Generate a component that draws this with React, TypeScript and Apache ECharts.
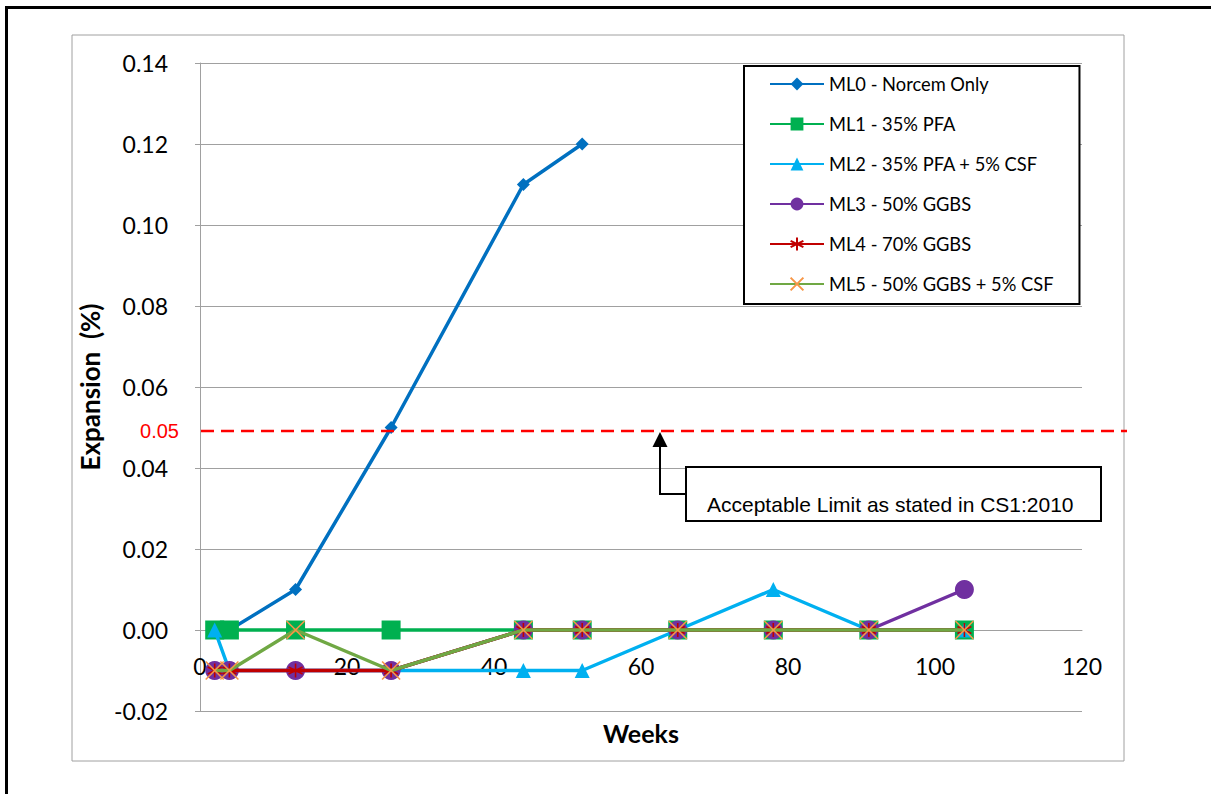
import React, { useEffect, useRef } from "react";
import * as echarts from "echarts";

// ---- data ----
const weeks = [2, 4, 13, 26, 44, 52, 65, 78, 91, 104];
const seriesNames = [
  "ML0 - Norcem Only",
  "ML1 - 35% PFA",
  "ML2 - 35% PFA + 5% CSF",
  "ML3 - 50% GGBS",
  "ML4 - 70% GGBS",
  "ML5 - 50% GGBS + 5% CSF",
];
const ml0 = [null, 0, 0.01, 0.05, 0.11, 0.12, null, null, null, null];
const ml1 = [0, 0, 0, 0, 0, 0, 0, 0, 0, 0];
const ml2 = [0, -0.01, null, -0.01, -0.01, -0.01, 0, 0.01, 0, 0];
const ml3 = [-0.01, -0.01, -0.01, -0.01, 0, 0, 0, 0, 0, 0.01];
const ml4 = [-0.01, -0.01, -0.01, -0.01, 0, 0, 0, 0, 0, 0];
const ml5 = [-0.01, -0.01, 0, -0.01, 0, 0, 0, 0, 0, 0];
const seriesValues = [ml0, ml1, ml2, ml3, ml4, ml5];

const yMin = -0.02;
const yMax = 0.14;
const yStep = 0.02;
const xMin = 0;
const xMax = 120;
const xStep = 20;

const xTitle = "Weeks";
const yTitle = "Expansion\u00a0 (%)";
const limitLabel = "0.05";
const annotationText = "Acceptable Limit as stated in CS1:2010";

// ---- styles ----
const lineColors = ["#0070C0", "#00B050", "#00B0F0", "#7030A0", "#C00000", "#70A844"];
const markerColors = ["#0070C0", "#00B050", "#00B0F0", "#7030A0", "#C00000", "#F79646"];
const symbols = [
  "diamond",
  "rect",
  "triangle",
  "circle",
  "path://M5,0L5,10M0.7,2.5L9.3,7.5M0.7,7.5L9.3,2.5",
  "path://M0,0L10,10M10,0L0,10",
];
const symbolSizes = [13, 19, 15, 19, 14, 18];
const FONT = "Lato, 'Open Sans', sans-serif";

export default function App() {
  const ref = useRef<HTMLDivElement>(null);

  useEffect(() => {
    if (!ref.current) return;
    const chart = echarts.init(ref.current, null, { renderer: "svg" });

    const series = seriesNames.map((name, si) => {
      const vals = seriesValues[si];
      const data = weeks
        .map((w, i) => [w, vals[i]])
        .filter((p) => p[1] !== null);
      const isStroke = si >= 4;
      return {
        name,
        type: "line",
        data,
        symbol: symbols[si],
        symbolSize: symbolSizes[si],
        showAllSymbol: true,
        connectNulls: true,
        lineStyle: { color: lineColors[si], width: 3.5 },
        itemStyle: {
          color: markerColors[si],
          borderColor: markerColors[si],
          borderWidth: isStroke ? 1.6 : 0,
        },
        emphasis: { disabled: true },
        z: 2 + si,
      };
    });

    const option: any = {
      animation: false,
      backgroundColor: "#ffffff",
      textStyle: { fontFamily: FONT },
      grid: {
        left: 200,
        top: 63,
        right: 129,
        bottom: 83,
        containLabel: false,
        outerBoundsMode: "none",
      },
      xAxis: {
        type: "value",
        min: xMin,
        max: xMax,
        interval: xStep,
        offset: -81,
        axisLine: { show: true, onZero: false, lineStyle: { color: "#a0a0a0", width: 1 } },
        axisTick: { show: false },
        splitLine: { show: false },
        axisLabel: { color: "#000", fontSize: 23, fontFamily: FONT, margin: 24 },
        name: xTitle,
        nameLocation: "middle",
        nameGap: 90,
        nameTextStyle: { color: "#000", fontSize: 25, fontWeight: "bold", fontFamily: FONT },
      },
      yAxis: {
        type: "value",
        min: yMin,
        max: yMax,
        interval: yStep,
        axisLine: { show: true, onZero: false, lineStyle: { color: "#a0a0a0", width: 1 } },
        axisTick: { show: true, inside: false, length: 5, lineStyle: { color: "#a0a0a0" } },
        splitLine: { show: true, lineStyle: { color: "#a0a0a0", width: 1 } },
        axisLabel: {
          color: "#000",
          fontSize: 23,
          fontFamily: FONT,
          margin: 32,
          formatter: (v: number) => v.toFixed(2),
        },
        name: yTitle,
        nameLocation: "middle",
        nameGap: 95,
        nameTextStyle: { color: "#000", fontSize: 26, fontWeight: "bold", fontFamily: FONT },
      },
      legend: {
        orient: "vertical",
        left: 744,
        top: 66,
        padding: [8, 26, 10, 25],
        itemGap: 20,
        itemWidth: 54,
        itemHeight: 16,
        selectedMode: false,
        backgroundColor: "#ffffff",
        borderColor: "#000000",
        borderWidth: 2,
        textStyle: { color: "#000", fontSize: 18.3, fontFamily: FONT, lineHeight: 20 },
        data: seriesNames,
      },
      series,
      graphic: [
        {
          type: "rect",
          silent: true,
          z: -10,
          shape: { x: 6.5, y: 7.5, width: 1230, height: 820 },
          style: { fill: "none", stroke: "#000", lineWidth: 3 },
        },
        {
          type: "rect",
          silent: true,
          z: -10,
          shape: { x: 72, y: 35, width: 1052, height: 726 },
          style: { fill: "none", stroke: "#a0a0a0", lineWidth: 1 },
        },
        {
          type: "line",
          silent: true,
          z: 50,
          shape: { x1: 201, y1: 431, x2: 1127, y2: 431 },
          style: { stroke: "#FF0000", lineWidth: 2.6, lineDash: [13, 7] },
        },
        {
          type: "text",
          silent: true,
          z: 50,
          x: 179,
          y: 431,
          style: {
            text: limitLabel,
            fill: "#FF0000",
            font: "20px 'Liberation Sans', Arial, sans-serif",
            align: "right",
            verticalAlign: "middle",
          },
        },
        {
          type: "polyline",
          silent: true,
          z: 50,
          shape: { points: [[686, 494], [660, 494], [660, 446]] },
          style: { stroke: "#000", lineWidth: 2, fill: "none" },
        },
        {
          type: "polygon",
          silent: true,
          z: 50,
          shape: { points: [[660, 432], [667.5, 447], [652.5, 447]] },
          style: { fill: "#000" },
        },
        {
          type: "rect",
          silent: true,
          z: 50,
          shape: { x: 686, y: 467, width: 415, height: 54 },
          style: { fill: "#fff", stroke: "#000", lineWidth: 2 },
        },
        {
          type: "text",
          silent: true,
          z: 51,
          x: 707,
          y: 504,
          style: {
            text: annotationText,
            fill: "#000",
            font: "21px 'Liberation Sans', Arial, sans-serif",
            align: "left",
            verticalAlign: "middle",
          },
        },
      ],
    };

    chart.setOption(option);
    return () => chart.dispose();
  }, []);

  return (
    <div
      ref={ref}
      style={{ position: "absolute", left: 0, top: 0, width: 1211, height: 794 }}
    />
  );
}
